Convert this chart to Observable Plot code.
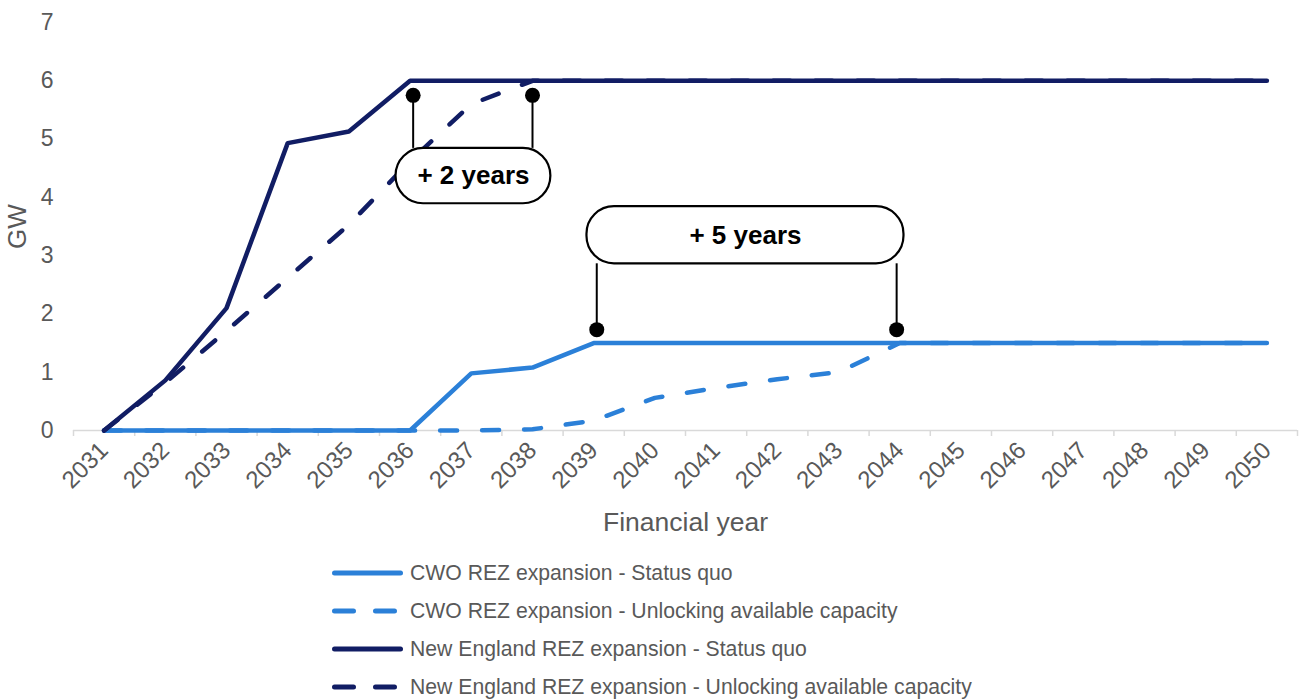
<!DOCTYPE html>
<html>
<head>
<meta charset="utf-8">
<script src="https://cdn.jsdelivr.net/npm/d3@7"></script>
<script src="https://cdn.jsdelivr.net/npm/@observablehq/plot@0.6"></script>
<style>
  body { margin: 0; background: #fff; font-family: "Liberation Sans", Arial, sans-serif; }
  #legend { padding-top: 9px; margin-left: 332px; }
  .row { display: flex; align-items: center; height: 38px; font-size: 21.2px; color: #595959; white-space: nowrap; }
  .row svg { margin-right: 7px; flex: none; }
</style>
</head>
<body>
<div id="chart"></div>
<div id="legend"></div>
<script>
// ---- data ----
const years = [2031, 2032, 2033, 2034, 2035, 2036, 2037, 2038, 2039, 2040,
               2041, 2042, 2043, 2044, 2045, 2046, 2047, 2048, 2049, 2050];
const cwoStatusQuo   = [0, 0, 0, 0, 0, 0, 0.98, 1.08, 1.5, 1.5, 1.5, 1.5, 1.5, 1.5, 1.5, 1.5, 1.5, 1.5, 1.5, 1.5];
const cwoUnlocking   = [0, 0, 0, 0, 0, 0, 0, 0.02, 0.17, 0.56, 0.73, 0.88, 1.0, 1.5, 1.5, 1.5, 1.5, 1.5, 1.5, 1.5];
const neStatusQuo    = [0, 0.86, 2.1, 4.93, 5.13, 6, 6, 6, 6, 6, 6, 6, 6, 6, 6, 6, 6, 6, 6, 6];
const neUnlocking    = [0, 0.82, 1.71, 2.62, 3.53, 4.62, 5.6, 6, 6, 6, 6, 6, 6, 6, 6, 6, 6, 6, 6, 6];
const yTicks = [0, 1, 2, 3, 4, 5, 6, 7];

const seriesNames = [
  "CWO REZ expansion - Status quo",
  "CWO REZ expansion - Unlocking available capacity",
  "New England REZ expansion - Status quo",
  "New England REZ expansion - Unlocking available capacity"
];
const seriesValues = [cwoStatusQuo, cwoUnlocking, neStatusQuo, neUnlocking];
const seriesColors = ["#2b80d8", "#2b80d8", "#111d64", "#111d64"];
const seriesDashed = [false, true, false, true];

// annotation brackets (years, GW)
const bracketLabels   = ["+ 2 years", "+ 5 years"];
const bracketStart    = [2036.05, 2039.05];
const bracketEnd      = [2038.0, 2043.95];
const bracketDotGW    = [5.75, 1.73];
const bracketBoxX1    = [2035.77, 2038.89];
const bracketBoxX2    = [2038.30, 2044.07];
const bracketBoxY1    = [3.89, 2.86];
const bracketBoxY2    = [4.84, 3.84];
const bracketEdgeGW   = [4.84, 2.86];

// ---- build tables ----
const boundaries = years.map(y => y - 0.5).concat([years[years.length - 1] + 0.5]);
const brackets = bracketLabels.map((label, i) => ({
  label, start: bracketStart[i], end: bracketEnd[i], dot: bracketDotGW[i],
  x1: bracketBoxX1[i], x2: bracketBoxX2[i], y1: bracketBoxY1[i], y2: bracketBoxY2[i],
  edge: bracketEdgeGW[i],
  cx: (bracketBoxX1[i] + bracketBoxX2[i]) / 2, cy: (bracketBoxY1[i] + bracketBoxY2[i]) / 2
}));
const ends = brackets.flatMap(b => [{x: b.start, dot: b.dot, edge: b.edge}, {x: b.end, dot: b.dot, edge: b.edge}]);

const lineMarks = seriesValues.map((vals, i) =>
  Plot.line(years, {
    x: years, y: vals, stroke: seriesColors[i], strokeWidth: 4.5,
    strokeLinejoin: "round", strokeLinecap: "round",
    strokeDasharray: seriesDashed[i] ? "17,25" : null
  })
);

const chart = Plot.plot({
  width: 1301,
  height: 545,
  marginTop: 22,
  marginBottom: 115,
  marginLeft: 73,
  marginRight: 4,
  style: { fontFamily: "'Liberation Sans', Arial, sans-serif", background: "#fff", overflow: "visible" },
  x: { domain: [2030.5, 2050.5] },
  y: { domain: [0, 7] },
  marks: [
    Plot.ruleY([0], { stroke: "#d9d9d9", strokeWidth: 1.5 }),
    Plot.axisX({ ticks: boundaries, tickSize: 6, stroke: "#d9d9d9", strokeWidth: 1.5, tickFormat: () => "", label: null }),
    Plot.axisX({ ticks: years, tickSize: 0, tickPadding: 16, tickRotate: -45, tickFormat: d => String(d),
                 fontSize: 24, color: "#595959", label: null }),
    Plot.axisY({ ticks: yTicks, tickSize: 0, tickPadding: 20, tickFormat: d => String(d), fontSize: 23, color: "#595959", label: null }),
    Plot.text(["Financial year"], { frameAnchor: "bottom", lineAnchor: "middle", dy: 92, fontSize: 26.5, fill: "#595959" }),
    Plot.text(["GW"], { frameAnchor: "left", textAnchor: "middle", dx: -56, rotate: -90, fontSize: 26, fill: "#595959" }),
    ...lineMarks,
    Plot.ruleX(ends, { x: "x", y1: "dot", y2: "edge", stroke: "#000", strokeWidth: 2 }),
    Plot.dot(ends, { x: "x", y: "dot", r: 7.5, fill: "#000", stroke: null }),
    Plot.rect(brackets, { x1: "x1", x2: "x2", y1: "y1", y2: "y2", rx: 27.5, fill: "#fff", stroke: "#000", strokeWidth: 2.2 }),
    Plot.text(brackets, { x: "cx", y: "cy", text: "label", fontSize: 26, fontWeight: "bold", fill: "#000" })
  ]
});
document.getElementById("chart").append(chart);

// ---- legend ----
const legend = document.getElementById("legend");
seriesNames.forEach((name, i) => {
  const row = document.createElement("div");
  row.className = "row";
  const dash = seriesDashed[i] ? ' stroke-dasharray="19,22"' : '';
  row.innerHTML = `<svg width="71" height="10"><line x1="2.5" y1="5" x2="68.5" y2="5" stroke="${seriesColors[i]}" stroke-width="5" stroke-linecap="round"${dash}/></svg><span>${name}</span>`;
  legend.append(row);
});
</script>
</body>
</html>
